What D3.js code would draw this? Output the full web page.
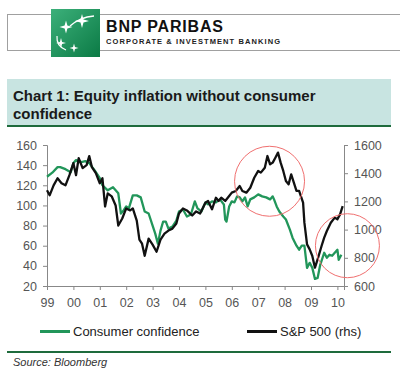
<!DOCTYPE html>
<html>
<head>
<meta charset="utf-8">
<script src="https://cdn.jsdelivr.net/npm/d3@7"></script>
<style>
  body { margin: 0; background: #fff; }
  svg { display: block; font-family: "Liberation Sans", Arial, sans-serif; }
</style>
</head>
<body>
<svg width="400" height="379"></svg>
<script>
// consumer confidence (lhs)
const ccDates = [1999.0, 1999.2, 1999.4, 1999.5, 1999.7, 1999.9, 2000.0, 2000.1, 2000.3, 2000.45, 2000.6, 2000.8,
  2001.0, 2001.1, 2001.3, 2001.5, 2001.7, 2001.8, 2001.9, 2002.0, 2002.1, 2002.25, 2002.4, 2002.55, 2002.7, 2002.85,
  2003.0, 2003.1, 2003.2, 2003.3, 2003.4, 2003.5, 2003.6, 2003.75, 2003.9, 2004.0, 2004.15, 2004.3, 2004.45, 2004.6,
  2004.7, 2004.85, 2005.0, 2005.1, 2005.25, 2005.4, 2005.55, 2005.7, 2005.75, 2005.8, 2005.9, 2006.0, 2006.1, 2006.2,
  2006.3, 2006.4, 2006.5, 2006.6, 2006.7, 2006.85, 2007.0, 2007.15, 2007.3, 2007.45, 2007.55, 2007.6, 2007.7, 2007.8,
  2007.95, 2008.05, 2008.2, 2008.3, 2008.45, 2008.55, 2008.65, 2008.75, 2008.85, 2008.95, 2009.05, 2009.15, 2009.25,
  2009.35, 2009.5, 2009.6, 2009.7, 2009.8, 2009.9, 2010.0, 2010.05, 2010.15];
const ccValues = [128.5, 132.5, 138, 138, 136, 133, 142, 145, 143, 144, 142, 135,
  127, 120, 115, 118, 112, 92, 95, 99, 97, 110, 110, 108, 94, 92,
  80, 72, 62, 75, 84, 84, 77, 79, 85, 94, 96, 89, 91, 104,
  97, 94, 103, 101, 104, 103, 106, 101, 86, 84, 99, 104, 103, 109,
  108, 104, 108, 99, 106, 108, 111, 109, 108, 106, 109, 106, 99, 94,
  89, 86, 76, 68, 60, 56, 60, 60, 38, 43, 38, 27, 28,
  41, 53, 48, 51, 50, 53, 56, 46, 51];

// S&P 500 (rhs)
const spDates = [1999.0, 1999.1, 1999.25, 1999.4, 1999.55, 1999.7, 1999.85, 2000.0, 2000.1, 2000.2, 2000.35, 2000.5,
  2000.6, 2000.7, 2000.85, 2001.0, 2001.1, 2001.2, 2001.3, 2001.45, 2001.6, 2001.7, 2001.85, 2002.0, 2002.15, 2002.25,
  2002.4, 2002.5, 2002.6, 2002.7, 2002.85, 2003.0, 2003.15, 2003.3, 2003.45, 2003.6, 2003.75, 2003.9, 2004.0, 2004.15,
  2004.3, 2004.5, 2004.65, 2004.8, 2005.0, 2005.1, 2005.25, 2005.4, 2005.5, 2005.6, 2005.75, 2005.9, 2006.0, 2006.15,
  2006.3, 2006.4, 2006.55, 2006.7, 2006.85, 2007.0, 2007.1, 2007.25, 2007.35, 2007.45, 2007.55, 2007.65, 2007.75, 2007.85,
  2007.95, 2008.05, 2008.15, 2008.25, 2008.35, 2008.45, 2008.55, 2008.7, 2008.75, 2008.85, 2008.95, 2009.05, 2009.15,
  2009.25, 2009.4, 2009.5, 2009.6, 2009.75, 2009.9, 2010.0, 2010.1, 2010.2];
const spValues = [1279, 1243, 1314, 1364, 1329, 1314, 1386, 1471, 1386, 1507, 1436, 1457,
  1521, 1443, 1400, 1329, 1364, 1164, 1257, 1236, 1171, 1029, 1079, 1150, 1136, 1150,
  1064, 929, 900, 814, 936, 893, 843, 929, 971, 993, 1007, 1043, 1114, 1150,
  1136, 1100, 1129, 1114, 1191, 1203, 1144, 1226, 1203, 1226, 1203, 1238, 1262, 1274,
  1309, 1274, 1262, 1297, 1368, 1416, 1404, 1439, 1522, 1463, 1475, 1510, 1546, 1475,
  1416, 1345, 1321, 1392, 1333, 1274, 1274, 1191, 1049, 895, 860, 813, 730,
  789, 884, 943, 990, 1049, 1085, 1073, 1108, 1167];

const yearTicks = [1999, 2000, 2001, 2002, 2003, 2004, 2005, 2006, 2007, 2008, 2009, 2010];
const yearLabels = ["99", "00", "01", "02", "03", "04", "05", "06", "07", "08", "09", "10"];
const leftTicks = [20, 40, 60, 80, 100, 120, 140, 160];
const rightTicks = [600, 800, 1000, 1200, 1400, 1600];
const seriesNames = ["Consumer confidence", "S&P 500 (rhs)"];
// highlight circles: [year, lhs value, radius px]
const highlights = [[2007.43, 124, 35], [2010.38, 60, 32]];

const green = "#22965a";
const svg = d3.select("svg");

// header
svg.append("rect").attr("x", 7.5).attr("y", 14.5).attr("width", 400).attr("height", 36)
  .attr("fill", "#fff").attr("stroke", "#a0a0a0");
const grad = svg.append("defs").append("linearGradient").attr("id", "lg")
  .attr("x1", 0).attr("y1", 0).attr("x2", 1).attr("y2", 1);
grad.append("stop").attr("offset", 0).attr("stop-color", "#3cb07a");
grad.append("stop").attr("offset", 1).attr("stop-color", "#0b7a45");
svg.append("rect").attr("x", 51).attr("y", 9).attr("width", 49).attr("height", 48).attr("fill", "url(#lg)");
const star = function(cx, cy, r) {
  let pts = [];
  for (let i = 0; i < 8; i++) {
    const a = i * Math.PI / 4 - Math.PI / 2;
    const rr = i % 2 ? r * 0.3 : r;
    pts.push((cx + rr * Math.cos(a)) + "," + (cy + rr * Math.sin(a)));
  }
  return pts.join(" ");
};
[[66, 27, 6.5], [82, 21, 7], [61, 43, 5], [74, 48, 4.5]].forEach(s => {
  svg.append("polygon").attr("points", star(s[0], s[1], s[2])).attr("fill", "#fff");
});
svg.append("path").attr("d", "M70,26 Q80,17 94,16").attr("fill", "none").attr("stroke", "#fff").attr("stroke-width", 1.5);
svg.append("path").attr("d", "M57,36 Q56,46 66,50").attr("fill", "none").attr("stroke", "#fff").attr("stroke-width", 1.2);

svg.append("text").attr("x", 106).attr("y", 32).attr("font-size", 16).attr("font-weight", "bold")
  .attr("textLength", 117).attr("fill", "#111").text("BNP PARIBAS");
svg.append("text").attr("x", 106).attr("y", 44).attr("font-size", 7.5).attr("font-weight", "bold")
  .attr("textLength", 174).attr("fill", "#222").text("CORPORATE & INVESTMENT BANKING");

// title box
svg.append("rect").attr("x", 7).attr("y", 79).attr("width", 384).attr("height", 47).attr("fill", "#c8e4e1");
svg.append("rect").attr("x", 7).attr("y", 125).attr("width", 384).attr("height", 2).attr("fill", "#1e6b3c");
svg.append("text").attr("x", 13).attr("y", 101).attr("font-size", 15).attr("font-weight", "bold")
  .attr("fill", "#1a1a1a").text("Chart 1: Equity inflation without consumer");
svg.append("text").attr("x", 13).attr("y", 119).attr("font-size", 15).attr("font-weight", "bold")
  .attr("fill", "#1a1a1a").text("confidence");

// scales
const x = d3.scaleLinear().domain([1999, 2010.25]).range([47, 344]);
const yL = d3.scaleLinear().domain([20, 160]).range([286, 145]);
const yR = d3.scaleLinear().domain([600, 1600]).range([286, 145]);

const styleAxis = function(g) {
  g.select(".domain").attr("stroke", "#888");
  g.selectAll(".tick line").attr("stroke", "#888");
  g.selectAll(".tick text").attr("fill", "#555").attr("font-size", 12.5)
    .attr("font-family", "Liberation Sans, Arial, sans-serif");
};

svg.append("g").attr("transform", "translate(0,286)")
  .call(d3.axisBottom(x).tickValues(yearTicks).tickFormat((d, i) => yearLabels[i]).tickSizeOuter(0).tickSize(4).tickPadding(8))
  .call(styleAxis);
svg.append("g").attr("transform", "translate(47,0)")
  .call(d3.axisLeft(yL).tickValues(leftTicks).tickFormat(d3.format("d")).tickSizeOuter(0).tickSize(4).tickPadding(6))
  .call(styleAxis);
svg.append("g").attr("transform", "translate(344,0)")
  .call(d3.axisRight(yR).tickValues(rightTicks).tickFormat(d3.format("d")).tickSizeOuter(0).tickSize(4).tickPadding(6))
  .call(styleAxis);

// series
const ccLine = d3.line().x((d, i) => x(ccDates[i])).y(d => yL(d));
const spLine = d3.line().x((d, i) => x(spDates[i])).y(d => yR(d));
svg.append("path").datum(ccValues).attr("d", ccLine).attr("fill", "none")
  .attr("stroke", green).attr("stroke-width", 2.3).attr("stroke-linejoin", "round");
svg.append("path").datum(spValues).attr("d", spLine).attr("fill", "none")
  .attr("stroke", "#111").attr("stroke-width", 2.3).attr("stroke-linejoin", "round");

svg.selectAll("circle.hl").data(highlights).enter().append("circle")
  .attr("cx", d => x(d[0])).attr("cy", d => yL(d[1])).attr("r", d => d[2])
  .attr("fill", "none").attr("stroke", "#f07070").attr("stroke-width", 1);

// legend
const legend = svg.append("g");
[[40, green], [247, "#111"]].forEach((l, i) => {
  legend.append("line").attr("x1", l[0]).attr("x2", l[0] + 30).attr("y1", 331.5).attr("y2", 331.5)
    .attr("stroke", l[1]).attr("stroke-width", 3);
  legend.append("text").attr("x", l[0] + 33).attr("y", 336).attr("font-size", 13)
    .attr("fill", "#222").text(seriesNames[i]);
});

svg.append("rect").attr("x", 7).attr("y", 351).attr("width", 384).attr("height", 2).attr("fill", "#1e6b3c");
svg.append("text").attr("x", 13).attr("y", 366).attr("font-size", 11).attr("font-style", "italic")
  .attr("fill", "#333").text("Source: Bloomberg");
</script>
</body>
</html>
